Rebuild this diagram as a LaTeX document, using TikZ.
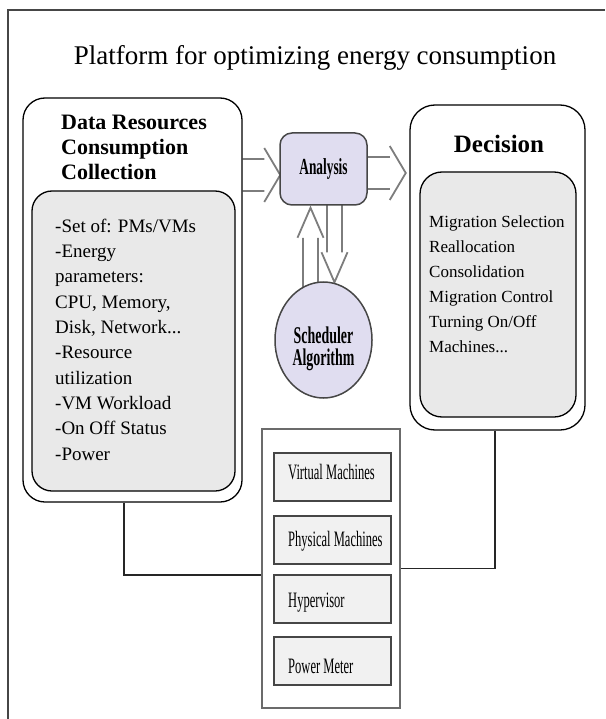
\documentclass[tikz,border=0pt]{standalone}
\usepackage{fontspec}
\setmainfont{Liberation Serif}
\newfontfamily\condfont[FakeStretch=0.57]{Liberation Serif}
\newfontfamily\condboldfont[FakeStretch=0.58]{Liberation Serif}
\usetikzlibrary{calc,shapes.geometric}

\definecolor{lavender}{RGB}{224,221,240}
\definecolor{panelgray}{RGB}{233,233,233}
\definecolor{hwgray}{RGB}{241,241,241}
\definecolor{arrowgray}{RGB}{125,125,125}
\definecolor{edgegray}{RGB}{70,70,70}

\pgfdeclarelayer{background}
\pgfsetlayers{background,main}

\tikzset{
  outerbox/.style={draw, line width=1.3pt, rounded corners=22pt, fill=white, inner sep=0pt},
  innerbox/.style={draw, line width=1.3pt, rounded corners=20pt, fill=panelgray, inner sep=0pt},
  headtext/.style={font=\bfseries\fontsize{22}{25}\selectfont, align=left, inner sep=0pt},
  bodytext/.style={font=\fontsize{19}{25.3}\selectfont, align=left, inner sep=0pt},
  hwbox/.style={draw=edgegray, line width=2pt, fill=hwgray, minimum width=117pt, minimum height=48pt, inner sep=0pt},
  hwtext/.style={font=\condfont\fontsize{22}{24}\selectfont, inner sep=0pt},
  hollow/.style={draw=arrowgray, line width=1.8pt},
  wire/.style={draw=black!85, line width=1.5pt}
}

% hollow block arrow pointing right: tail, tip
\newcommand{\harrow}[2]{%
  \draw[hollow] ($(#1)+(0,-16)$) -- ($(#2)+(-16,-16)$)
    ($(#1)+(0,16)$) -- ($(#2)+(-16,16)$)
    ($(#2)+(-16,-27)$) -- (#2) -- ($(#2)+(-16,27)$);}
% hollow block arrow up or down: tail, tip, 1 = down, -1 = up
\newcommand{\varrow}[3]{%
  \draw[hollow] ($(#1)+(-7.5,0)$) -- ($(#2)+(-7.5,{-30*(#3)})$)
    ($(#1)+(7.5,0)$) -- ($(#2)+(7.5,{-30*(#3)})$)
    ($(#2)+(-13,{-30*(#3)})$) -- (#2) -- ($(#2)+(13,{-30*(#3)})$);}

\begin{document}
\begin{tikzpicture}[x=1pt, y=-1pt]
    \useasboundingbox (0,0) rectangle (605,719);
    \draw[line width=1.2pt, color=edgegray] (8,719) -- (8,10) -- (605,10);
    \node[font=\fontsize{27}{30}\selectfont, anchor=base, inner sep=0pt] (title) at (315,65) {Platform for optimizing energy consumption};

    %Data collection panel
    \node[outerbox, minimum width=219pt, minimum height=404pt] (drc) at (132.5,300) {};
    \node[headtext, anchor=base west] (drchead) at (61,180) {Data Resources\\Consumption\\Collection};
    \node[innerbox, minimum width=203pt, minimum height=300pt] (drcin) at (133.5,341) {};
    \node[bodytext, anchor=base west] (drctext) at (55,460) {-Set of: PMs/VMs\\-Energy\\parameters:\\CPU, Memory,\\Disk, Network...\\-Resource\\utilization\\-VM Workload\\-On Off Status\\-Power};

    %Analysis and scheduler
    \node[draw=edgegray, line width=1.5pt, fill=lavender, rounded corners=12pt, minimum width=87pt, minimum height=72pt, inner sep=0pt, font=\condboldfont\bfseries\fontsize{23}{25}\selectfont] (ana) at (323.5,169) {Analysis};
    \node[ellipse, draw=edgegray, line width=1.5pt, fill=lavender, minimum width=97pt, minimum height=116pt, inner sep=0pt] (sch) at (323.5,340) {};
    \node[font=\condboldfont\bfseries\fontsize{24}{22}\selectfont, align=center, inner sep=0pt, anchor=base] (schtext) at ($(sch.center)+(0,25)$) {Scheduler\\Algorithm};

    %Decision panel
    \node[outerbox, rounded corners=25pt, minimum width=175pt, minimum height=325pt] (dec) at (497.5,267.5) {};
    \node[font=\bfseries\fontsize{25}{28}\selectfont, anchor=base, inner sep=0pt] (dechead) at (499,153) {Decision};
    \node[innerbox, rounded corners=22pt, minimum width=156pt, minimum height=245pt] (decin) at (498,294.5) {};
    \node[font=\fontsize{17}{25}\selectfont, align=left, inner sep=0pt, anchor=base west] (dectext) at (429,352) {Migration Selection\\Reallocation\\Consolidation\\Migration Control\\Turning On/Off\\Machines...};

    %Hardware stack
    \node[draw=edgegray!80, line width=1.5pt, minimum width=138pt, minimum height=279pt, inner sep=0pt] (hw) at (331,568.5) {};
    \foreach \nm/\cy/\by/\txt in {vm/476.5/479/Virtual Machines, pm/539.5/546/Physical Machines, hyp/598.5/607/Hypervisor, pmet/661/673/Power Meter} {
        \node[hwbox] (\nm) at (332,\cy) {};
        \node[hwtext, anchor=base west] (\nm txt) at (288,\by) {\txt};
    }

    %Block arrows
    \coordinate (intip) at ($(ana.west)+(1,6)$);
    \coordinate (intail) at (intip -| drc.east);
    \coordinate (outtip) at ($(ana.east)+(38,4)$);
    \coordinate (outtail) at (outtip -| ana.east);
    \coordinate (uptip) at ($(ana.south)+(-13,2)$);
    \coordinate (uptail) at (uptip |- sch.center);
    \coordinate (dntip) at ($(sch.north)+(11,1)$);
    \coordinate (dntail) at (dntip |- ana.center);
    \begin{pgfonlayer}{background}
        \harrow{intail}{intip}
        \harrow{outtail}{outtip}
        \varrow{uptail}{uptip}{-1}
        \varrow{dntail}{dntip}{1}
    \end{pgfonlayer}

    %Links to the hardware stack
    \draw[wire] ($(drc.south)+(-8.5,0)$) |- ($(hw.west)+(0,6.5)$);
    \draw[wire] ($(dec.south)+(-2.5,0)$) |- (hw.east);
\end{tikzpicture}
\end{document}
